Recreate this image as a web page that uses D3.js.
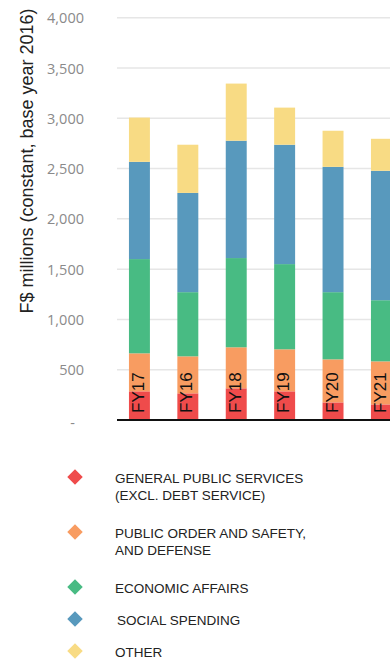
<!DOCTYPE html>
<html>
<head>
<meta charset="utf-8">
<script src="https://cdn.jsdelivr.net/npm/d3@7"></script>
<style>
  html, body { margin: 0; padding: 0; background: #fff; }
  svg { display: block; }
</style>
</head>
<body>
<svg id="chart" width="390" height="660"></svg>
<script>
// Fiscal years, in the order shown
const years = ["FY17", "FY16", "FY18", "FY19", "FY20", "FY21"];

// Spending by function, F$ millions (constant, base year 2016)
const generalPublic = [285, 265, 315, 285, 175, 155];
const publicOrder   = [378, 368, 408, 418, 428, 428];
const economic      = [937, 638, 887, 847, 668, 608];
const social        = [967, 987, 1167, 1187, 1246, 1287];
const other         = [440, 479, 568, 369, 359, 318];

const seriesKeys = ["gps", "pos", "eco", "soc", "oth"];
const seriesNames = [
  ["GENERAL PUBLIC SERVICES", "(EXCL. DEBT SERVICE)"],
  ["PUBLIC ORDER AND SAFETY,", "AND DEFENSE"],
  ["ECONOMIC AFFAIRS"],
  ["SOCIAL SPENDING"],
  ["OTHER"]
];
const seriesColors = ["#ef4b4b", "#f89c61", "#48bb83", "#5899bd", "#f8db84"];

const yTicks = [0, 500, 1000, 1500, 2000, 2500, 3000, 3500, 4000];
const yTickLabels = ["-", "500", "1,000", "1,500", "2,000", "2,500", "3,000", "3,500", "4,000"];

const rows = years.map((y, i) => ({
  year: y,
  gps: generalPublic[i],
  pos: publicOrder[i],
  eco: economic[i],
  soc: social[i],
  oth: other[i]
}));

const svg = d3.select("#chart");
const left = 117, baseY = 420, topY = 17.7;

const y = d3.scaleLinear().domain([0, 4000]).range([baseY, topY]);
const x = d3.scaleBand()
  .domain(years)
  .range([left, left + 48.4 * (years.length - 0.567 + 0.494)])
  .paddingInner(0.567)
  .paddingOuter(0.247);

// Horizontal grid
svg.append("g")
  .selectAll("line")
  .data(yTicks.filter(t => t > 0))
  .join("line")
  .attr("x1", left).attr("x2", 390)
  .attr("y1", d => y(d)).attr("y2", d => y(d))
  .attr("stroke", "#e6e6e6").attr("stroke-width", 1.5);

// Y axis tick labels
const yAxis = d3.axisLeft(y)
  .tickValues(yTicks)
  .tickFormat((d, i) => yTickLabels[i])
  .tickSize(0)
  .tickPadding(0);
const yg = svg.append("g").attr("transform", "translate(84,0)").call(yAxis);
yg.select(".domain").remove();
yg.selectAll("text")
  .attr("font-family", "'Open Sans', sans-serif")
  .attr("font-size", 14.5)
  .attr("fill", "#8a8a8a")
  .attr("dy", "0.35em");
yg.selectAll(".tick").filter(d => d === 0).select("text").attr("dy", "0.5em").attr("x", -9);

// Y axis title
svg.append("text")
  .attr("transform", "translate(33,161) rotate(-90)")
  .attr("text-anchor", "middle")
  .attr("font-family", "'Liberation Sans', Arial, sans-serif")
  .attr("font-size", 18)
  .attr("fill", "#222")
  .text("F$ millions (constant, base year 2016)");

// Stacked bars
const stacked = d3.stack().keys(seriesKeys)(rows);
svg.append("g")
  .selectAll("g")
  .data(stacked)
  .join("g")
  .attr("fill", (d, i) => seriesColors[i])
  .selectAll("rect")
  .data(d => d)
  .join("rect")
  .attr("x", d => x(d.data.year))
  .attr("width", x.bandwidth())
  .attr("y", d => y(d[1]))
  .attr("height", d => y(d[0]) - y(d[1]));

// Baseline
svg.append("line")
  .attr("x1", left).attr("x2", 390)
  .attr("y1", baseY).attr("y2", baseY)
  .attr("stroke", "#111").attr("stroke-width", 2);

// Year labels inside the bars
svg.append("g")
  .selectAll("text")
  .data(years)
  .join("text")
  .attr("transform", d => `translate(${x(d) + x.bandwidth() / 2 - 1.5},${baseY - 7}) rotate(-90)`)
  .attr("dy", "0.36em")
  .attr("font-family", "'Liberation Sans', Arial, sans-serif")
  .attr("font-size", 17)
  .attr("fill", "#111")
  .text(d => d);

// Legend
const legendY = [478, 533, 588, 620, 652];
const legend = svg.append("g")
  .selectAll("g")
  .data(seriesNames)
  .join("g")
  .attr("transform", (d, i) => `translate(0,${legendY[i]})`);

legend.append("rect")
  .attr("x", -5.5).attr("y", -5.5)
  .attr("width", 11).attr("height", 11)
  .attr("transform", "translate(75,-1) rotate(45)")
  .attr("fill", (d, i) => seriesColors[i]);

legend.append("text")
  .attr("x", (d, i) => i === 3 ? 117 : 115)
  .attr("font-family", "'Liberation Sans', Arial, sans-serif")
  .attr("font-size", 13.5)
  .attr("fill", "#222")
  .selectAll("tspan")
  .data(d => d)
  .join("tspan")
  .attr("x", function () { return d3.select(this.parentNode).attr("x"); })
  .attr("y", (d, j) => j * 17)
  .attr("dy", "0.35em")
  .text(d => d);
</script>
</body>
</html>
